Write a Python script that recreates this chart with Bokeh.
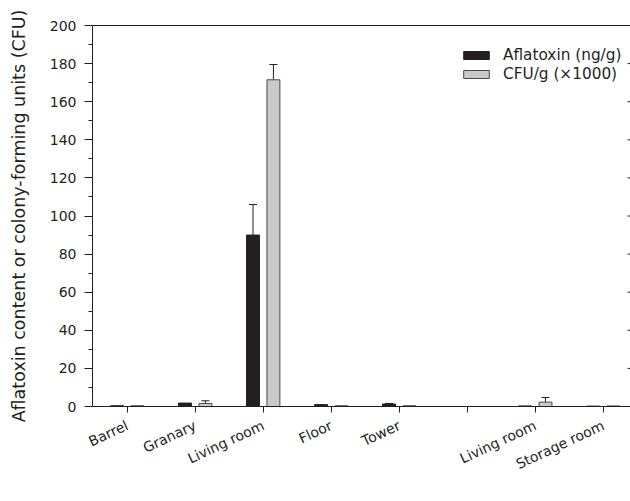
from bokeh.plotting import figure
from bokeh.models import (ColumnDataSource, Range1d, LinearAxis, FixedTicker, Whisker,
                          TeeHead, Legend, LegendItem, Label)
from bokeh.embed import file_html
from bokeh.resources import INLINE
import math

# ---- data ----
categories = ["Barrel", "Granary", "Living room", "Floor", "Tower", "", "Living room", "Storage room"]
aflatoxin = [0.4, 1.8, 90.0, 1.0, 1.3, float("nan"), 0.3, 0.2]
aflatoxin_err = [0.0, 0.0, 16.0, 0.0, 0.3, float("nan"), 0.0, 0.0]
cfu = [0.4, 1.6, 171.5, 0.4, 0.4, float("nan"), 2.3, 0.3]
cfu_err = [0.0, 1.4, 8.0, 0.0, 0.0, float("nan"), 2.4, 0.0]
groups = ["Maize", "Sesame"]
group_label_x = [1.77, 6.13]
y_ticks = list(range(0, 201, 20))
y_minor = list(range(10, 200, 20))

FONT = "DejaVu Sans"
INK = "#231f20"
GRAY = "#c8c9cb"
GRAY_LINE = "#4a4a4a"

dodge = 0.15
bar_w = 0.19
xs = list(range(len(categories)))
X_END = 7.40

src_a = ColumnDataSource(dict(
    x=[i - dodge for i in xs], top=aflatoxin,
    upper=[(v + e) if e and e > 0 else float("nan") for v, e in zip(aflatoxin, aflatoxin_err)],
    lower=aflatoxin))
src_c = ColumnDataSource(dict(
    x=[i + dodge for i in xs], top=cfu,
    upper=[(v + e) if e and e > 0 else float("nan") for v, e in zip(cfu, cfu_err)],
    lower=cfu))

p = figure(width=630, height=501, output_backend="svg", toolbar_location=None,
           x_range=Range1d(-0.51, X_END), y_range=Range1d(0, 200),
           min_border_left=92, min_border_right=0, min_border_top=25, min_border_bottom=95,
           x_axis_location=None, y_axis_location=None)
p.outline_line_color = None
p.xgrid.visible = False
p.ygrid.visible = False
p.background_fill_color = "white"
p.border_fill_color = "white"

# bars
r_a = p.vbar(x="x", top="top", bottom=0, width=bar_w, source=src_a,
             fill_color=INK, line_color=INK, line_width=1)
r_c = p.vbar(x="x", top="top", bottom=0, width=bar_w, source=src_c,
             fill_color=GRAY, line_color=GRAY_LINE, line_width=1)

# error bars (upper only)
for src in (src_a, src_c):
    w = Whisker(base="x", upper="upper", lower="lower", source=src, dimension="height",
                line_color=INK, line_width=1,
                upper_head=TeeHead(size=8, line_color=INK, line_width=1),
                lower_head=None)
    p.add_layout(w)

# inward tick marks along the (cropped) right edge
p.scatter(x=[X_END] * len(y_ticks), y=y_ticks, marker="dash", size=6,
          line_color=INK, line_width=1)

# left axis
yax = LinearAxis(ticker=FixedTicker(ticks=y_ticks, minor_ticks=y_minor),
                 axis_label="Aflatoxin content or colony-forming units (CFU)")
yax.axis_line_color = INK
yax.major_tick_line_color = INK
yax.minor_tick_line_color = INK
yax.major_tick_out = 8
yax.major_tick_in = 0
yax.minor_tick_out = 4
yax.minor_tick_in = 0
yax.major_label_standoff = 8
yax.major_label_text_font = FONT
yax.major_label_text_font_size = "14px"
yax.major_label_text_color = INK
yax.axis_label_text_font = FONT
yax.axis_label_text_font_size = "17.5px"
yax.axis_label_text_font_style = "normal"
yax.axis_label_text_color = INK
yax.axis_label_standoff = 18
p.add_layout(yax, "left")

# bottom axis
xax = LinearAxis(ticker=FixedTicker(ticks=xs))
xax.major_label_overrides = {i: c for i, c in zip(xs, categories)}
xax.axis_line_color = INK
xax.major_tick_line_color = INK
xax.minor_tick_line_color = None
xax.major_tick_out = 6
xax.major_tick_in = 0
xax.major_label_standoff = 12
xax.major_label_orientation = math.radians(25)
xax.major_label_text_font = FONT
xax.major_label_text_font_size = "14px"
xax.major_label_text_color = INK
p.add_layout(xax, "below")

# top line
tax = LinearAxis(ticker=FixedTicker(ticks=[]))
tax.axis_line_color = INK
tax.major_tick_line_color = None
tax.minor_tick_line_color = None
p.add_layout(tax, "above")

# group labels
for name, gx in zip(groups, group_label_x):
    p.add_layout(Label(x=gx, y=-39.4, text=name, text_align="center", text_baseline="top",
                       text_font=FONT, text_font_size="16.5px", text_color=INK))

legend = Legend(items=[LegendItem(label="Aflatoxin (ng/g)", renderers=[r_a]),
                       LegendItem(label="CFU/g (×1000)", renderers=[r_c])],
                location=(368, 323), orientation="vertical")
legend.border_line_color = None
legend.background_fill_alpha = 0
legend.padding = 0
legend.margin = 0
legend.spacing = 1
legend.glyph_width = 32
legend.glyph_height = 10
legend.label_height = 17
legend.label_standoff = 11
legend.label_text_font = FONT
legend.label_text_font_size = "15.3px"
legend.label_text_color = INK
p.add_layout(legend)

open("out.html", "w").write(file_html(p, INLINE))
